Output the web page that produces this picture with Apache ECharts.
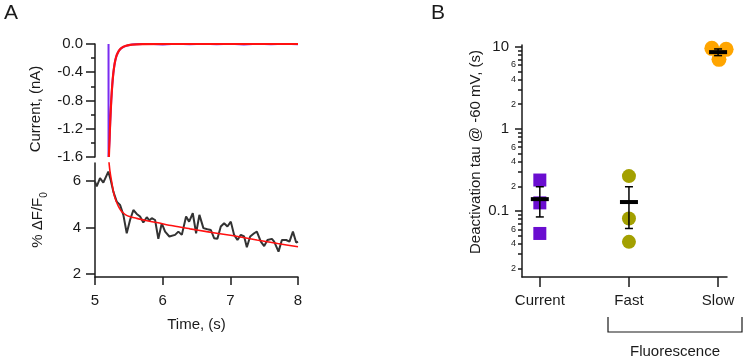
<!DOCTYPE html>
<html>
<head>
<meta charset="utf-8">
<script src="https://cdn.jsdelivr.net/npm/echarts@6/dist/echarts.min.js"></script>
<style>
  html, body { margin: 0; padding: 0; background: #fff; }
  #chart { width: 743px; height: 357px; }
</style>
</head>
<body>
<div id="chart"></div>
<script>
// panel A top: current (nA) vs time (s)
const currentTrace = [
  [5.2, 0.0], [5.2, -1.6], [5.205, -1.6], [5.215, -1.36], [5.225, -1.1], [5.24, -0.8],
  [5.255, -0.58], [5.27, -0.42], [5.285, -0.31], [5.3, -0.23], [5.32, -0.16], [5.35, -0.1],
  [5.38, -0.065], [5.42, -0.04], [5.48, -0.02], [5.55, -0.008], [5.6, -0.004], [5.8, 0.004],
  [6.0, -0.006], [6.2, 0.003], [6.4, -0.005], [6.6, 0.004], [6.8, -0.003], [7.0, 0.003],
  [7.2, -0.006], [7.4, 0.003], [7.6, -0.004], [7.8, 0.003], [8.0, -0.003]
]
const currentFit = [
  [5.205, -1.6], [5.215, -1.35], [5.225, -1.1], [5.24, -0.8], [5.255, -0.58], [5.27, -0.42],
  [5.285, -0.31], [5.3, -0.23], [5.32, -0.16], [5.35, -0.1], [5.38, -0.065], [5.42, -0.04],
  [5.48, -0.02], [5.55, -0.008], [5.7, -0.002], [6.5, 0.0], [8.0, 0.0]
]

// panel A bottom: fluorescence (% dF/F0) vs time (s)
const fluoTrace = [
  [5.0, 5.97], [5.025, 5.76], [5.074, 6.12], [5.123, 5.93], [5.148, 5.87], [5.197, 6.4],
  [5.232, 6.04], [5.271, 5.54], [5.321, 5.11], [5.37, 4.97], [5.419, 4.54], [5.469, 3.75],
  [5.518, 4.32], [5.567, 4.75], [5.617, 4.58], [5.666, 4.47], [5.714, 4.21], [5.765, 4.44],
  [5.803, 4.3], [5.839, 4.4], [5.888, 4.32], [5.936, 3.51], [5.987, 4.18], [6.036, 3.82],
  [6.099, 3.61], [6.183, 3.68], [6.232, 3.82], [6.283, 3.68], [6.346, 4.47], [6.391, 4.25],
  [6.445, 4.61], [6.494, 3.75], [6.543, 4.54], [6.602, 3.97], [6.661, 3.92], [6.712, 3.89],
  [6.76, 3.54], [6.809, 3.51], [6.859, 4.04], [6.908, 4.18], [6.957, 4.04], [7.007, 4.25],
  [7.056, 3.68], [7.105, 3.46], [7.155, 3.68], [7.204, 3.61], [7.244, 3.15], [7.293, 3.61],
  [7.352, 3.75], [7.392, 3.82], [7.451, 3.39], [7.5, 3.2], [7.549, 3.46], [7.614, 3.51],
  [7.648, 3.39], [7.712, 2.96], [7.762, 3.46], [7.825, 3.46], [7.874, 3.39], [7.925, 3.82],
  [7.973, 3.35], [8.0, 3.39]
]
const fluoFit = [
  [5.205, 6.85], [5.222, 6.4], [5.247, 5.95], [5.268, 5.6], [5.29, 5.32], [5.321, 5.07],
  [5.35, 4.88], [5.385, 4.72], [5.419, 4.62], [5.46, 4.53], [5.51, 4.47], [5.617, 4.39],
  [5.75, 4.3], [5.913, 4.21], [6.15, 4.07], [6.405, 3.94], [6.65, 3.82], [6.898, 3.71],
  [7.15, 3.59], [7.392, 3.46], [7.7, 3.31], [8.0, 3.17]
]

// panel B: deactivation tau (s)
const groupNames = ['Current', 'Fast', 'Slow']
const tauCurrent = [[0, 0.239], [0, 0.126], [0, 0.0535]]
const tauFast = [[1, 0.267], [1, 0.0815], [1, 0.0423]]
const tauSlow = [[1.93, 9.56], [2.09, 9.3], [2.01, 7.02]]
// x, mean, mean - sem, mean + sem
const tauMeanSem = [[0, 0.14, 0.085, 0.198], [1, 0.129, 0.0615, 0.198], [2, 8.6, 7.8, 9.4]]

const logMajor = [0.1, 1, 10]
const logMinor = [
  0.02, 0.03, 0.04, 0.05, 0.06, 0.07, 0.08, 0.09,
  0.2, 0.3, 0.4, 0.5, 0.6, 0.7, 0.8, 0.9,
  2, 3, 4, 5, 6, 7, 8, 9
]
const logMinorLabels = [0.02, 0.04, 0.06, 0.2, 0.4, 0.6, 2, 4, 6]

const FONT = '"Liberation Sans", Arial, sans-serif'
const INK = '#1a1a1a'
const axisLine = { show: true, onZero: false, lineStyle: { color: INK, width: 1.5 } }
const labelStyle = { color: INK, fontFamily: FONT, fontSize: 15 }
const nameStyle = { color: INK, fontFamily: FONT, fontSize: 15 }

function leadingDigit(v) {
  const p = Math.pow(10, Math.floor(Math.log10(v) + 1e-9))
  return String(Math.round(v / p))
}

function renderMeanSem(params, api) {
  const x = api.value(0)
  const mean = api.coord([x, api.value(1)])
  const lo = api.coord([x, api.value(2)])
  const hi = api.coord([x, api.value(3)])
  const thin = { stroke: '#000', lineWidth: 1.5 }
  return {
    type: 'group',
    children: [
      { type: 'line', shape: { x1: lo[0], y1: lo[1], x2: hi[0], y2: hi[1] }, style: thin },
      { type: 'line', shape: { x1: lo[0] - 4, y1: lo[1], x2: lo[0] + 4, y2: lo[1] }, style: thin },
      { type: 'line', shape: { x1: hi[0] - 4, y1: hi[1], x2: hi[0] + 4, y2: hi[1] }, style: thin },
      { type: 'line', shape: { x1: mean[0] - 9, y1: mean[1], x2: mean[0] + 9, y2: mean[1] }, style: { stroke: '#000', lineWidth: 4 } }
    ]
  }
}

const chart = echarts.init(document.getElementById('chart'))

chart.setOption({
  animation: false,
  backgroundColor: '#fff',
  title: [
    { text: 'A', left: -1, top: -2, textStyle: { fontFamily: FONT, fontSize: 21, fontWeight: 'normal', color: INK } },
    { text: 'B', left: 426, top: -2, textStyle: { fontFamily: FONT, fontSize: 21, fontWeight: 'normal', color: INK } }
  ],
  grid: [
    { left: 95, top: 44, width: 203, height: 113 },
    { left: 95, top: 163, width: 203, height: 114 },
    { left: 522, top: 45, width: 205, height: 232 }
  ],
  xAxis: [
    { type: 'value', gridIndex: 0, min: 5, max: 8, show: false },
    {
      type: 'value', gridIndex: 1, min: 5, max: 8, interval: 1, position: 'bottom',
      name: 'Time, (s)', nameLocation: 'middle', nameGap: 40, nameTextStyle: nameStyle,
      axisLine,
      axisTick: { show: true, length: 8, lineStyle: { color: INK, width: 1.5 } },
      axisLabel: { ...labelStyle, margin: 16 },
      splitLine: { show: false }
    },
    {
      type: 'value', gridIndex: 2, min: -0.2, max: 2.1, position: 'bottom',
      axisLine,
      axisTick: { show: true, length: 10, customValues: [0, 1, 2], lineStyle: { color: INK, width: 1.5 } },
      axisLabel: { ...labelStyle, margin: 16, customValues: [0, 1, 2], formatter: (v) => groupNames[Math.round(v)] },
      splitLine: { show: false }
    }
  ],
  yAxis: [
    {
      type: 'value', gridIndex: 0, min: -1.6, max: 0, interval: 0.4, position: 'left',
      name: 'Current, (nA)', nameLocation: 'middle', nameGap: 52,
      nameTextStyle: { ...nameStyle, padding: [0, 17, 0, 0] },
      axisLine,
      axisTick: { show: true, length: 9, lineStyle: { color: INK, width: 1.5 } },
      minorTick: { show: true, splitNumber: 2, length: 4, lineStyle: { color: INK, width: 1.5 } },
      axisLabel: { ...labelStyle, margin: 12, formatter: (v) => v.toFixed(1) },
      splitLine: { show: false }
    },
    {
      type: 'value', gridIndex: 1, min: 1.87, max: 6.77, position: 'left',
      name: '{n|% ΔF/F}{sub|0}', nameLocation: 'middle', nameGap: 46,
      nameTextStyle: {
        ...nameStyle,
        rich: {
          n: { fontFamily: FONT, fontSize: 15, color: INK, lineHeight: 22 },
          sub: { fontFamily: FONT, fontSize: 10, color: INK, lineHeight: 10, verticalAlign: 'bottom' }
        }
      },
      axisLine,
      axisTick: { show: true, length: 9, customValues: [2, 4, 6], lineStyle: { color: INK, width: 1.5 } },
      axisLabel: { ...labelStyle, margin: 14, customValues: [2, 4, 6] },
      splitLine: { show: false }
    },
    {
      type: 'log', logBase: 10, gridIndex: 2, min: 0.0158, max: 10.5, position: 'left',
      name: 'Deactivation tau @ -60 mV, (s)', nameLocation: 'middle', nameGap: 39,
      nameTextStyle: { ...nameStyle, padding: [0, 0, 0, 18] },
      axisLine,
      axisTick: { show: true, length: 7, customValues: logMajor, lineStyle: { color: INK, width: 1.5 } },
      axisLabel: {
        ...labelStyle, margin: 13, customValues: logMajor,
        formatter: (v) => (v < 1 ? v.toFixed(1) : String(Math.round(v)))
      },
      splitLine: { show: false }
    },
    {
      type: 'log', logBase: 10, gridIndex: 2, min: 0.0158, max: 10.5, position: 'left', offset: 0,
      axisLine: { show: false, onZero: false },
      axisTick: { show: true, length: 4, customValues: logMinor, lineStyle: { color: INK, width: 1.5 } },
      axisLabel: { color: INK, fontFamily: FONT, fontSize: 9, margin: 6, customValues: logMinorLabels, formatter: leadingDigit },
      splitLine: { show: false }
    }
  ],
  series: [
    {
      name: 'Current trace', type: 'line', xAxisIndex: 0, yAxisIndex: 0,
      data: currentTrace, showSymbol: false,
      lineStyle: { color: '#7a2cf0', width: 2 }
    },
    {
      name: 'Current fit', type: 'line', xAxisIndex: 0, yAxisIndex: 0,
      data: currentFit, showSymbol: false, smooth: 0.3,
      lineStyle: { color: '#ff1010', width: 2.2 }
    },
    {
      name: 'Fluorescence trace', type: 'line', xAxisIndex: 1, yAxisIndex: 1,
      data: fluoTrace, showSymbol: false,
      lineStyle: { color: '#333333', width: 2 }
    },
    {
      name: 'Fluorescence fit', type: 'line', xAxisIndex: 1, yAxisIndex: 1,
      data: fluoFit, showSymbol: false, smooth: 0.3,
      lineStyle: { color: '#ff1010', width: 1.6 }
    },
    {
      name: 'Current', type: 'scatter', xAxisIndex: 2, yAxisIndex: 2,
      data: tauCurrent, symbol: 'rect', symbolSize: 13,
      itemStyle: { color: '#6a0dd0', opacity: 1 }
    },
    {
      name: 'Fast', type: 'scatter', xAxisIndex: 2, yAxisIndex: 2,
      data: tauFast, symbol: 'circle', symbolSize: 14,
      itemStyle: { color: '#a3a000', opacity: 1 }
    },
    {
      name: 'Slow', type: 'scatter', xAxisIndex: 2, yAxisIndex: 2,
      data: tauSlow, symbol: 'circle', symbolSize: 15,
      itemStyle: { color: '#ffa500', opacity: 1 }
    },
    {
      name: 'Mean ± SEM', type: 'custom', xAxisIndex: 2, yAxisIndex: 2,
      data: tauMeanSem, renderItem: renderMeanSem, z: 5
    }
  ],
  graphic: [
    {
      type: 'polyline',
      shape: { points: [[608, 317], [608, 332], [742, 332], [742, 317]] },
      style: { stroke: INK, lineWidth: 1.2, fill: null }
    },
    {
      type: 'text', x: 675, y: 352,
      style: { text: 'Fluorescence', fontFamily: FONT, fontSize: 15, fill: INK, align: 'center', verticalAlign: 'middle' }
    }
  ]
})
</script>
</body>
</html>
